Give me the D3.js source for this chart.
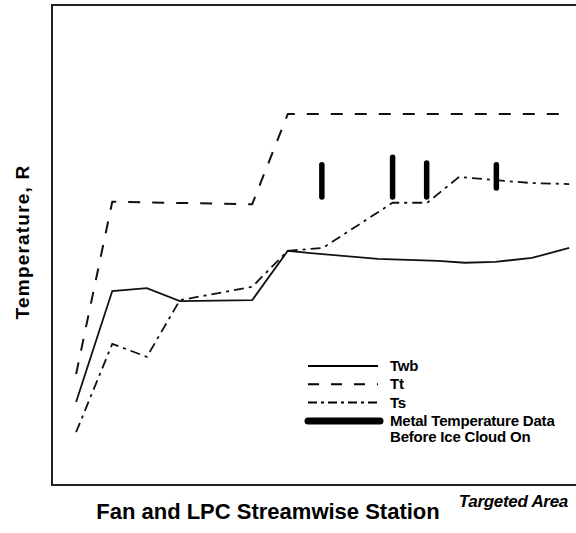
<!DOCTYPE html>
<html>
<head>
<meta charset="utf-8">
<script src="https://cdn.jsdelivr.net/npm/d3@7"></script>
<style>
  body { margin: 0; background: #fff; }
  svg { display: block; font-family: "Liberation Sans", Arial, sans-serif; }
</style>
</head>
<body>
<div id="main"></div>
<script>
'use strict';

// station positions (arbitrary units) and temperatures
var twbX = [4.6, 11.5, 18.1, 24.4, 38.2, 45.0, 49.4, 62.2, 73.7, 78.8, 84.6, 91.6, 98.7];
var twbY = [17.3, 40.4, 41.0, 38.3, 38.5, 48.8, 48.3, 47.1, 46.7, 46.3, 46.5, 47.3, 49.4];

var ttX = [4.6, 11.5, 38.2, 45.0, 98.7];
var ttY = [23.1, 59.0, 58.5, 77.3, 77.3];

var tsX = [4.6, 11.5, 18.1, 24.4, 38.2, 45.0, 51.7, 65.0, 71.6, 77.7, 84.6, 91.6, 98.7];
var tsY = [11.0, 29.4, 26.7, 38.5, 41.3, 48.8, 49.4, 58.8, 58.8, 64.2, 63.5, 62.9, 62.7];

// metal temperature data bars: station, low, high
var metalX = [51.5, 65.0, 71.5, 84.8];
var metalLo = [60.0, 60.0, 60.0, 61.9];
var metalHi = [66.7, 68.3, 67.1, 66.7];

var legendLabels = ['Twb', 'Tt', 'Ts', 'Metal Temperature Data'];

var width = 576, height = 533;
var margin = { left: 52, top: 5, right: 0, bottom: 48 };

var svg = d3.select('#main').append('svg')
  .attr('width', width).attr('height', height);

var x = d3.scaleLinear().domain([0, 100]).range([margin.left, width]);
var y = d3.scaleLinear().domain([0, 100]).range([height - margin.bottom, margin.top]);

// frame (no right edge visible in original)
svg.append('path')
  .attr('d', 'M' + width + ',' + y(100) + 'H' + x(0) + 'V' + y(0) + 'H' + width)
  .attr('fill', 'none')
  .attr('stroke', '#222')
  .attr('stroke-width', 2);

var line = d3.line()
  .x(function(d) { return x(d[0]); })
  .y(function(d) { return y(d[1]); });

function zipXY(xs, ys) {
  return xs.map(function(v, i) { return [v, ys[i]]; });
}

var styles = {
  twb: { dash: null, w: 1.8 },
  tt: { dash: '12,12', w: 2 },
  ts: { dash: '10,5,3,5', w: 1.8 }
};

svg.append('path')
  .datum(zipXY(ttX, ttY))
  .attr('d', line)
  .attr('fill', 'none')
  .attr('stroke', '#111')
  .attr('stroke-width', styles.tt.w)
  .attr('stroke-dasharray', styles.tt.dash);

svg.append('path')
  .datum(zipXY(tsX, tsY))
  .attr('d', line)
  .attr('fill', 'none')
  .attr('stroke', '#111')
  .attr('stroke-width', styles.ts.w)
  .attr('stroke-dasharray', styles.ts.dash);

svg.append('path')
  .datum(zipXY(twbX, twbY))
  .attr('d', line)
  .attr('fill', 'none')
  .attr('stroke', '#111')
  .attr('stroke-width', styles.twb.w);

// metal bars
svg.append('g').selectAll('line')
  .data(metalX).enter()
  .append('line')
  .attr('x1', function(d) { return x(d); })
  .attr('x2', function(d) { return x(d); })
  .attr('y1', function(d, i) { return y(metalLo[i]); })
  .attr('y2', function(d, i) { return y(metalHi[i]); })
  .attr('stroke', '#000')
  .attr('stroke-width', 5.5)
  .attr('stroke-linecap', 'round');

// legend
var legend = svg.append('g').attr('transform', 'translate(308,366)');
var legendStyle = [
  { dash: null, w: 2 },
  { dash: '11,12', w: 2 },
  { dash: '9,4,3,4', w: 2 },
  { dash: null, w: 7 }
];
var rowH = 18.3;

legendLabels.forEach(function(lab, i) {
  var g = legend.append('g').attr('transform', 'translate(0,' + (i * rowH) + ')');
  g.append('line')
    .attr('x1', 0).attr('x2', i === 3 ? 72 : 70)
    .attr('stroke', '#000')
    .attr('stroke-width', legendStyle[i].w)
    .attr('stroke-linecap', i === 3 ? 'round' : 'butt')
    .attr('stroke-dasharray', legendStyle[i].dash);
  g.append('text')
    .attr('x', 82).attr('y', 5)
    .attr('font-size', 15)
    .attr('font-weight', 'bold')
    .attr('letter-spacing', -0.2)
    .text(lab);
});
legend.append('text')
  .attr('x', 82).attr('y', 3 * rowH + 21)
  .attr('font-size', 15)
  .attr('font-weight', 'bold')
  .attr('letter-spacing', -0.2)
  .text('Before Ice Cloud On');

// axis titles
svg.append('text')
  .attr('transform', 'translate(29,242) rotate(-90)')
  .attr('text-anchor', 'middle')
  .attr('font-size', 19)
  .attr('font-weight', 'bold')
  .attr('letter-spacing', 1.2)
  .text('Temperature, R');

svg.append('text')
  .attr('x', 268).attr('y', 519)
  .attr('text-anchor', 'middle')
  .attr('font-size', 22)
  .attr('font-weight', 'bold')
  .text('Fan and LPC Streamwise Station');

svg.append('text')
  .attr('x', 568).attr('y', 507)
  .attr('text-anchor', 'end')
  .attr('font-size', 17)
  .attr('font-style', 'italic')
  .attr('font-weight', 'bold')
  .attr('letter-spacing', -0.3)
  .text('Targeted Area');
</script>
</body>
</html>
